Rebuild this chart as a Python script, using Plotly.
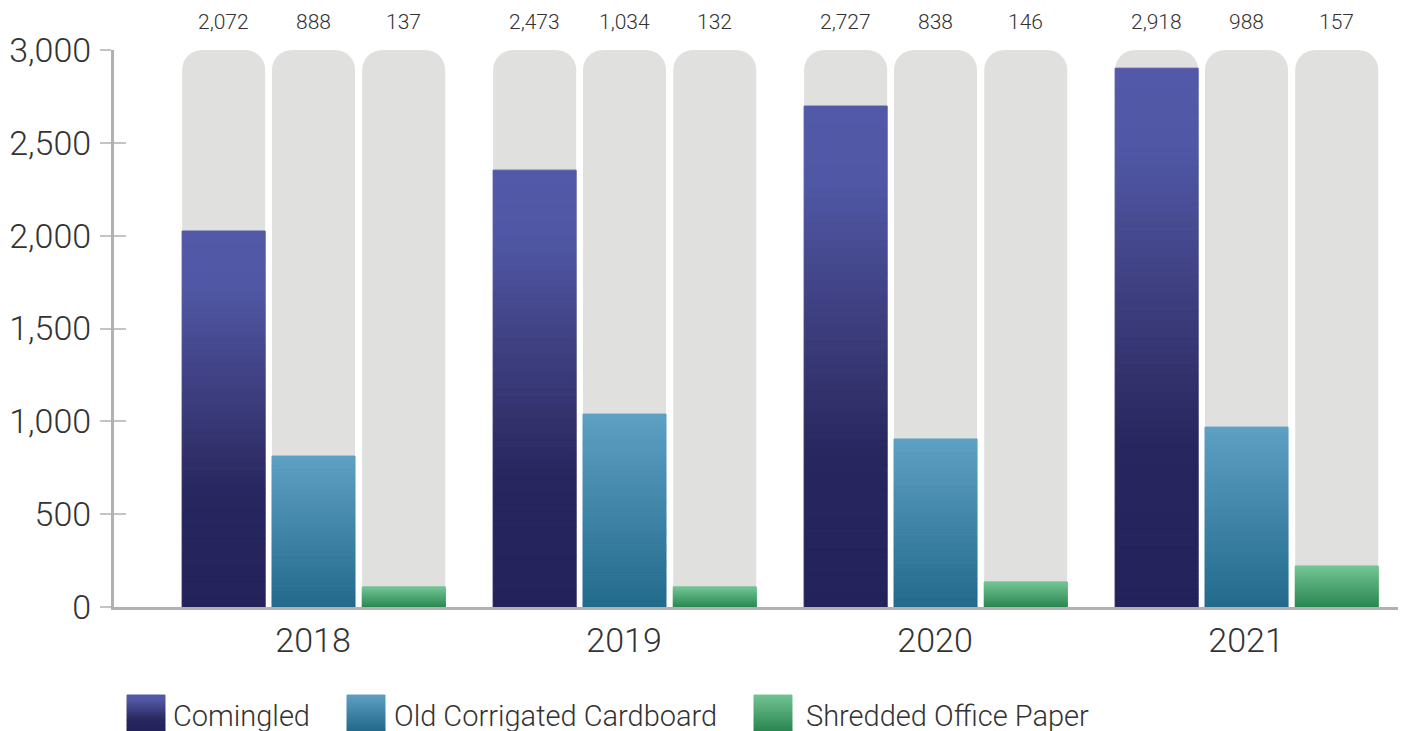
import plotly.graph_objects as go

# ---------------- data ----------------
years = ["2018", "2019", "2020", "2021"]
series_names = ["Comingled", "Old Corrigated Cardboard", "Shredded Office Paper"]
comingled_bar = [2025, 2353, 2698, 2902]
cardboard_bar = [813, 1039, 905, 969]
shredded_bar = [108, 108, 135, 221]
comingled_label = [2072, 2473, 2727, 2918]
cardboard_label = [888, 1034, 838, 988]
shredded_label = [137, 132, 146, 157]
axis_max = 3000
y_ticks = [0, 500, 1000, 1500, 2000, 2500, 3000]

# ---------------- style ----------------
FONT = "Roboto"
TXT = "#333333"
GRAY_BG = "#e0e0df"
AXIS_COL = "#b0b1b5"
TICK_COL = "#c4c4c6"
BAR_W = 0.267
OFFSETS = [-0.421, -0.132, 0.158]
N_SLICES = 60
PAGE_OFF = 8  # default body margin of the html page

grad_comingled = [(0.0, "#24225a"), (0.3, "#27265f"), (0.4, "#312f69"),
                  (0.66, "#43468a"), (0.85, "#5058a5"), (1.0, "#5259a8")]
grad_cardboard = [(0.0, "#236a8c"), (1.0, "#5ea0c4")]
grad_shredded = [(0.0, "#2a8650"), (1.0, "#73c593")]

bars = [comingled_bar, cardboard_bar, shredded_bar]
labels = [comingled_label, cardboard_label, shredded_label]
grads = [grad_comingled, grad_cardboard, grad_shredded]


def hex2rgb(h):
    h = h.lstrip("#")
    return tuple(int(h[i:i + 2], 16) for i in (0, 2, 4))


def grad_color(stops, t):
    for (t0, c0), (t1, c1) in zip(stops[:-1], stops[1:]):
        if t0 <= t <= t1:
            f = 0 if t1 == t0 else (t - t0) / (t1 - t0)
            a, b = hex2rgb(c0), hex2rgb(c1)
            r = [round(a[i] + (b[i] - a[i]) * f) for i in range(3)]
            return "rgb(%d,%d,%d)" % tuple(r)
    return stops[-1][1]


xs = list(range(len(years)))
fig = go.Figure()

# gray rounded background bars
for off in OFFSETS:
    fig.add_trace(go.Bar(
        x=xs, y=[axis_max] * len(years), base=0, offset=off, width=BAR_W,
        marker=dict(color=GRAY_BG, line=dict(width=0), cornerradius=20),
        hoverinfo="skip", showlegend=False))

# gradient-coloured bars built from slices of each value
for vals, off, stops, name in zip(bars, OFFSETS, grads, series_names):
    for k in range(N_SLICES):
        col = grad_color(stops, (k + 0.5) / N_SLICES)
        fig.add_trace(go.Bar(
            x=xs,
            y=[v / N_SLICES for v in vals],
            base=[v * k / N_SLICES for v in vals],
            offset=off, width=BAR_W,
            marker=dict(color=col, line=dict(width=1, color=col)),
            name=name, showlegend=False, hoverinfo="skip"))

# value labels above bars
annotations = []
for labs, off in zip(labels, OFFSETS):
    for i, v in enumerate(labs):
        annotations.append(dict(
            x=i + off + BAR_W / 2, y=1, xref="x", yref="paper", yshift=28,
            text=f"{v:,}", showarrow=False, xanchor="center", yanchor="middle",
            font=dict(family=FONT, size=21, color=TXT, weight=300)))

# plot area in page pixels
L, R, T, B = 114, 1400, 50, 607
W, H = R - L, B - T
FIG_W, FIG_H = 1406, 731


def pxx(p):
    return (p - L) / W


def pxy(p):
    return (B - p) / H


# manual legend (page pixel positions)
shapes = []
legend_sq = [(127, 165), (347, 385), (754, 792)]
legend_txt_x = [171, 392, 804]
sq_top, sq_bot = 695, 745
n_leg = 20
for (x0, x1), stops, tx, name in zip(legend_sq, grads, legend_txt_x, series_names):
    for k in range(n_leg):
        y_top = sq_top + (sq_bot - sq_top) * k / n_leg
        y_bot = sq_top + (sq_bot - sq_top) * (k + 1) / n_leg
        frac = 1 - ((y_top + y_bot) / 2 - sq_top) / (731 - sq_top)
        frac = max(0.0, min(1.0, frac))
        col = grad_color(stops, frac)
        shapes.append(dict(type="rect", xref="paper", yref="paper",
                           x0=pxx(x0), x1=pxx(x1), y0=pxy(y_bot), y1=pxy(y_top),
                           fillcolor=col, line=dict(width=1, color=col), layer="above"))
    annotations.append(dict(
        x=pxx(tx), y=pxy(716), xref="paper", yref="paper", text=name, showarrow=False,
        xanchor="left", yanchor="middle",
        font=dict(family=FONT, size=29, color=TXT, weight=300)))

fig.update_layout(
    width=FIG_W, height=FIG_H,
    margin=dict(l=L - PAGE_OFF, r=FIG_W - (R - PAGE_OFF), t=T - PAGE_OFF,
                b=FIG_H - (B - PAGE_OFF), pad=0, autoexpand=False),
    paper_bgcolor="white", plot_bgcolor="white",
    barmode="overlay",
    showlegend=False,
    annotations=annotations,
    shapes=shapes,
    xaxis=dict(
        range=[-0.640, 3.495], tickvals=xs, ticktext=years, automargin=False,
        showgrid=False, zeroline=False, showline=True, linecolor=AXIS_COL, linewidth=3,
        ticks="", ticklabelstandoff=1,
        tickfont=dict(family=FONT, size=34, color=TXT, weight=300), fixedrange=True),
    yaxis=dict(
        range=[0, axis_max], tickvals=y_ticks, ticktext=[f"{t:,}" for t in y_ticks],
        automargin=False,
        showgrid=False, zeroline=False, showline=True, linecolor=AXIS_COL, linewidth=3,
        ticks="outside", ticklen=11, tickwidth=2, tickcolor=TICK_COL, ticklabelstandoff=2,
        tickfont=dict(family=FONT, size=34, color=TXT, weight=300), fixedrange=True),
    yaxis2=dict(
        range=[0, axis_max], tickvals=y_ticks, overlaying="y", side="left",
        automargin=False,
        showgrid=False, zeroline=False, showline=False,
        ticks="inside", ticklen=12, tickwidth=2, tickcolor=TICK_COL,
        showticklabels=False, fixedrange=True),
)

# dummy trace to activate yaxis2
fig.add_trace(go.Scatter(x=[None], y=[None], yaxis="y2", showlegend=False, hoverinfo="skip"))

fig.write_html("out.html")
